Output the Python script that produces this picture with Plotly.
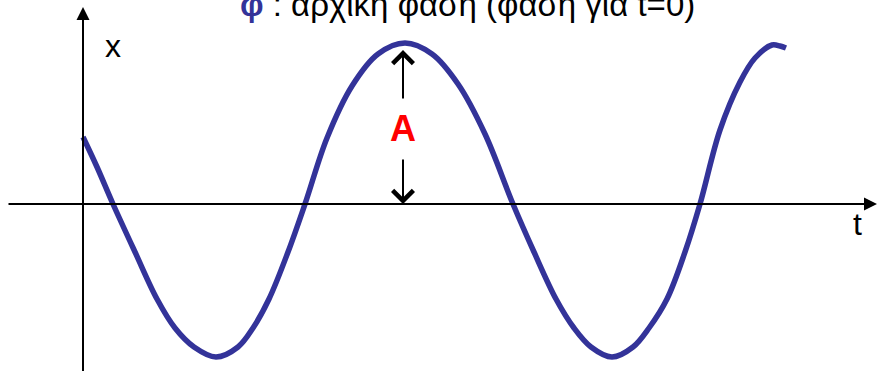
import plotly.graph_objects as go

# Curve samples (t: time units, x: displacement)
t_vals = [0, 14, 30, 52, 74, 92, 111, 133, 155, 170, 186, 205, 222, 244, 269, 295,
          322, 349, 375, 402, 430, 451, 473, 491, 508, 529, 550, 566, 584, 602, 617,
          637, 657, 672, 689, 697, 703]
x_vals = [67, 37, 0, -48, -95, -124, -143, -153, -143, -124, -95, -48, 0, 66, 118, 150,
          161, 150, 120, 70, 0, -48, -95, -124, -143, -153, -143, -124, -95, -48, 0,
          74, 122, 146, 159, 158, 156]

amp_t = 320          # position of the amplitude marker
amp_value = 155      # peak height marked by "A"

title_text = ('<b><span style="color:#333399">φ</span></b> : αρχική φάση (φάση για t=0)')

curve_color = "#333399"

fig = go.Figure()
fig.add_trace(go.Scatter(x=t_vals, y=x_vals, mode="lines",
                         line=dict(color=curve_color, width=5.5, shape="spline", smoothing=1.0),
                         hoverinfo="skip"))

ann = []
# horizontal axis (t) with arrow
ann.append(dict(x=794, y=0, ax=-76, ay=0, xref="x", yref="y", axref="x", ayref="y",
                showarrow=True, arrowhead=2, arrowsize=1.3, arrowwidth=2, arrowcolor="black",
                standoff=0, text=""))
# vertical axis (x) with arrow
ann.append(dict(x=0, y=197, ax=0, ay=-175, xref="x", yref="y", axref="x", ayref="y",
                showarrow=True, arrowhead=2, arrowsize=1.3, arrowwidth=2, arrowcolor="black",
                standoff=0, text=""))
# amplitude arrows
ann.append(dict(x=amp_t, y=amp_value - 1, ax=amp_t, ay=104, xref="x", yref="y", axref="x", ayref="y",
                showarrow=True, arrowhead=4, arrowsize=2.0, arrowwidth=2, arrowcolor="black",
                standoff=0, text=""))
ann.append(dict(x=amp_t, y=0, ax=amp_t, ay=46, xref="x", yref="y", axref="x", ayref="y",
                showarrow=True, arrowhead=4, arrowsize=2.0, arrowwidth=2, arrowcolor="black",
                standoff=0, text=""))
ann.append(dict(x=amp_t, y=76, xref="x", yref="y", showarrow=False, text="<b>A</b>",
                font=dict(family="Liberation Sans, Arial", size=36, color="red"),
                xanchor="center", yanchor="middle"))
# axis labels
ann.append(dict(x=30, y=158, xref="x", yref="y", showarrow=False, text="x",
                font=dict(family="Liberation Sans, Arial", size=32, color="black"),
                xanchor="center", yanchor="middle"))
ann.append(dict(x=774, y=-20, xref="x", yref="y", showarrow=False, text="t",
                font=dict(family="Liberation Sans, Arial", size=32, color="black"),
                xanchor="center", yanchor="middle"))
# title (partially cut at top in the original)
ann.append(dict(x=155, y=179, xref="x", yref="y", showarrow=False, text=title_text,
                font=dict(family="Liberation Sans, Arial", size=33, color="black"),
                xanchor="left", yanchor="bottom"))

fig.update_layout(
    width=878, height=371,
    margin=dict(l=0, r=0, t=0, b=0, autoexpand=False),
    paper_bgcolor="white", plot_bgcolor="white",
    showlegend=False,
    xaxis=dict(visible=False, range=[-83, 795], fixedrange=True),
    yaxis=dict(visible=False, range=[-167, 204], fixedrange=True),
    annotations=ann,
)

fig.write_html("out.html", config={"displayModeBar": False, "staticPlot": True},
               post_script="document.body.style.margin='0';document.body.style.overflow='hidden';")
